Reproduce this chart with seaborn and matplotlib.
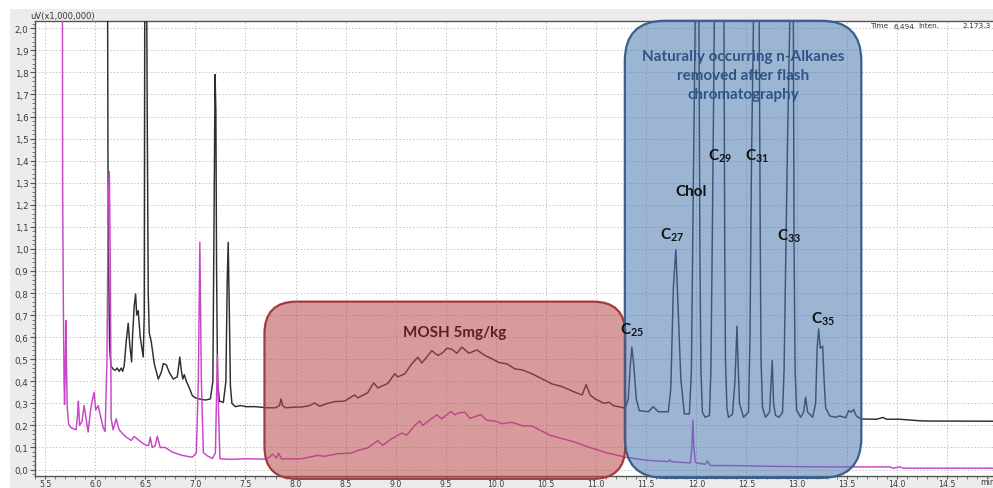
import numpy as np
import pandas as pd
import matplotlib
matplotlib.use("Agg")
import matplotlib.pyplot as plt
import seaborn as sns
from matplotlib.patches import FancyBboxPatch, Rectangle
from matplotlib.ticker import MultipleLocator, FuncFormatter, FixedLocator

# ---------------- data (retention time in min, signal in uV x 1,000,000) ----------------
sample_time = [
    6.105, 6.122, 6.128, 6.135, 6.145, 6.158, 6.18, 6.20, 6.22, 6.24, 6.26, 6.275, 6.29, 6.31,
    6.33, 6.345, 6.364, 6.375, 6.39, 6.404, 6.415, 6.43, 6.45, 6.48, 6.49, 6.497, 6.51, 6.52,
    6.53, 6.54, 6.56, 6.59, 6.63, 6.66, 6.68, 6.71, 6.74, 6.78, 6.82, 6.845, 6.86, 6.875, 6.89,
    6.91, 6.94, 6.97, 7.0, 7.04, 7.1, 7.15, 7.175, 7.188, 7.197, 7.205, 7.212, 7.222, 7.24,
    7.28, 7.305, 7.318, 7.328, 7.338, 7.35, 7.365, 7.40, 7.45, 7.51, 7.6, 7.71, 7.8, 7.84,
    7.855, 7.87, 7.9, 8.0, 8.06, 8.14, 8.19, 8.24, 8.32, 8.39, 8.49, 8.59, 8.62, 8.72, 8.78,
    8.82, 8.92, 8.99, 9.02, 9.09, 9.16, 9.22, 9.26, 9.31, 9.36, 9.42, 9.47, 9.51, 9.56, 9.61,
    9.66, 9.73, 9.81, 9.89, 9.96, 10.03, 10.11, 10.19, 10.26, 10.36, 10.46, 10.56, 10.66,
    10.79, 10.86, 10.90, 10.94, 10.99, 11.08, 11.13, 11.17, 11.24, 11.29, 11.32, 11.34,
    11.356, 11.376, 11.40, 11.43, 11.52, 11.57, 11.62, 11.72, 11.745, 11.77, 11.795, 11.81,
    11.83, 11.845, 11.88, 11.93, 11.95, 11.97, 11.99, 12.005, 12.025, 12.035, 12.045, 12.06,
    12.087, 12.13, 12.145, 12.16, 12.18, 12.21, 12.25, 12.275, 12.283, 12.29, 12.305, 12.32,
    12.36, 12.385, 12.405, 12.415, 12.43, 12.47, 12.52, 12.535, 12.55, 12.575, 12.6, 12.625,
    12.638, 12.645, 12.66, 12.69, 12.73, 12.757, 12.77, 12.79, 12.825, 12.86, 12.875, 12.89,
    12.91, 12.935, 12.955, 12.968, 12.975, 12.985, 13.0, 13.04, 13.07, 13.09, 13.11, 13.16,
    13.19, 13.205, 13.22, 13.236, 13.26, 13.275, 13.29, 13.33, 13.39, 13.43, 13.49, 13.52,
    13.545, 13.57, 13.595, 13.645, 13.80, 13.86, 13.9, 14.03, 14.2, 14.28, 14.96,
]
sample_signal = [
    2.6, 2.6, 1.43, 0.9, 0.55, 0.47, 0.455, 0.45, 0.46, 0.445, 0.46, 0.445, 0.47, 0.58,
    0.663, 0.57, 0.488, 0.62, 0.74, 0.796, 0.70, 0.72, 0.60, 0.51, 0.70, 2.6, 2.6, 1.6,
    0.8, 0.62, 0.58, 0.48, 0.41, 0.44, 0.48, 0.475, 0.44, 0.41, 0.42, 0.51, 0.45, 0.41, 0.43,
    0.40, 0.37, 0.335, 0.325, 0.32, 0.315, 0.32, 0.40, 1.25, 1.79, 1.62, 0.9, 0.40, 0.31,
    0.305, 0.40, 0.85, 1.03, 0.75, 0.38, 0.30, 0.285, 0.29, 0.285, 0.285, 0.28, 0.28, 0.29,
    0.32, 0.29, 0.28, 0.283, 0.283, 0.29, 0.302, 0.287, 0.30, 0.308, 0.31, 0.338, 0.325, 0.348, 0.393,
    0.37, 0.39, 0.434, 0.42, 0.434, 0.479, 0.509, 0.483, 0.51, 0.539, 0.517, 0.53, 0.55, 0.545, 0.527,
    0.555, 0.527, 0.542, 0.517, 0.502, 0.485, 0.479, 0.456, 0.452, 0.434, 0.411, 0.388, 0.376,
    0.35, 0.338, 0.385, 0.338, 0.32, 0.30, 0.305, 0.29, 0.283, 0.278, 0.32, 0.47,
    0.555, 0.47, 0.32, 0.267, 0.262, 0.285, 0.262, 0.262, 0.37, 0.82, 0.997, 0.82,
    0.577, 0.41, 0.252, 0.252, 0.44, 1.3, 2.1, 2.8, 2.1, 1.0, 0.45, 0.26,
    0.237, 0.245, 0.45, 1.1, 2.1, 3.0, 3.0, 2.1, 1.0, 0.5, 0.28, 0.237,
    0.25, 0.40, 0.65, 0.50, 0.30, 0.237, 0.26, 0.60, 1.4, 2.2, 2.8, 2.2,
    1.0, 0.5, 0.28, 0.237, 0.26, 0.494, 0.30, 0.245, 0.237, 0.26, 0.45, 0.9,
    1.5, 2.1, 2.6, 2.0, 1.0, 0.45, 0.27, 0.237, 0.26, 0.328, 0.26, 0.237,
    0.30, 0.55, 0.637, 0.55, 0.559, 0.40, 0.28, 0.243, 0.237, 0.243, 0.235, 0.267,
    0.26, 0.272, 0.243, 0.229, 0.228, 0.236, 0.228, 0.228, 0.222, 0.22, 0.219,
]

blank_time = [
    5.660, 5.672, 5.676, 5.682, 5.69, 5.695, 5.70, 5.709, 5.715, 5.722, 5.735, 5.76, 5.81,
    5.825, 5.833, 5.845, 5.87, 5.89, 5.93, 5.955, 5.97, 5.99, 6.005, 6.03, 6.06, 6.08, 6.10,
    6.118, 6.13, 6.142, 6.152, 6.16, 6.18, 6.21, 6.24, 6.27, 6.31, 6.36, 6.39, 6.43, 6.46,
    6.51, 6.535, 6.55, 6.57, 6.60, 6.62, 6.65, 6.70, 6.77, 6.87, 6.97, 7.01, 7.03, 7.045,
    7.06, 7.08, 7.12, 7.17, 7.2, 7.21, 7.22, 7.23, 7.245, 7.36, 7.5, 7.7, 7.74, 7.77, 7.81,
    7.83, 7.86, 8.06, 8.22, 8.29, 8.41, 8.56, 8.62, 8.72, 8.82, 8.87, 8.96, 9.06, 9.11, 9.19,
    9.24, 9.27, 9.34, 9.41, 9.46, 9.55, 9.59, 9.63, 9.69, 9.74, 9.85, 9.91, 9.99, 10.06,
    10.16, 10.26, 10.36, 10.46, 10.54, 10.66, 10.76, 10.93, 11.09, 11.29, 11.5, 11.72,
    11.735, 11.75, 11.94, 11.955, 11.965, 11.975, 11.99, 12.0, 12.09, 12.11, 12.14, 12.35,
    12.69, 13.03, 13.36, 13.93, 13.96, 14.03, 14.06, 14.97,
]
blank_signal = [
    2.6, 2.6, 1.26, 0.8, 0.40, 0.295, 0.40, 0.675, 0.45, 0.28, 0.207, 0.19, 0.18,
    0.25, 0.31, 0.20, 0.22, 0.29, 0.17, 0.27, 0.31, 0.35, 0.27, 0.29, 0.23, 0.19, 0.172,
    0.5, 1.2, 1.35, 0.9, 0.23, 0.18, 0.23, 0.18, 0.165, 0.147, 0.132, 0.15, 0.135, 0.124,
    0.109, 0.11, 0.147, 0.10, 0.109, 0.151, 0.10, 0.10, 0.079, 0.064, 0.056, 0.075, 0.40, 1.03,
    0.40, 0.077, 0.062, 0.05, 0.075, 0.30, 0.52, 0.30, 0.049, 0.046, 0.049, 0.047, 0.056, 0.07, 0.052,
    0.074, 0.048, 0.049, 0.064, 0.06, 0.071, 0.075, 0.087, 0.098, 0.131, 0.11, 0.14, 0.165, 0.156, 0.20,
    0.22, 0.20, 0.225, 0.248, 0.23, 0.263, 0.248, 0.257, 0.26, 0.232, 0.249, 0.223, 0.22, 0.208,
    0.214, 0.199, 0.197, 0.174, 0.155, 0.14, 0.128, 0.101, 0.078, 0.056, 0.042, 0.036,
    0.045, 0.036, 0.03, 0.10, 0.225, 0.10, 0.035, 0.03, 0.024, 0.039, 0.018, 0.018,
    0.015, 0.013, 0.012, 0.012, 0.006, 0.012, 0.006, 0.006,
]

x_tick_values = [5.5, 6.0, 6.5, 7.0, 7.5, 8.0, 8.5, 9.0, 9.5, 10.0, 10.5, 11.0, 11.5, 12.0,
                 12.5, 13.0, 13.5, 14.0, 14.5]
y_tick_values = [0.0, 0.1, 0.2, 0.3, 0.4, 0.5, 0.6, 0.7, 0.8, 0.9, 1.0, 1.1, 1.2, 1.3, 1.4,
                 1.5, 1.6, 1.7, 1.8, 1.9, 2.0]

peak_labels = ["C25", "C27", "Chol", "C29", "C31", "C33", "C35"]
region_mosh = [7.69, 11.29, -0.042, 0.761]        # x0, x1, y0, y1
region_alkanes = [11.286, 13.646, -0.038, 2.034]

# ---------------- style ----------------
sns.set_style("white")
plt.rcParams["font.family"] = ["DejaVu Sans"]
plt.rcParams["mathtext.fontset"] = "custom"
plt.rcParams["mathtext.rm"] = "Lato:bold"
plt.rcParams["mathtext.it"] = "Lato:bold"
plt.rcParams["mathtext.bf"] = "Lato:bold"

W, H = 993, 489
fig = plt.figure(figsize=(W / 100, H / 100), dpi=100, facecolor="white")
# grey window background
fig.patches.append(Rectangle((10 / W, 0), 1 - 10 / W, (H - 10) / H, transform=fig.transFigure,
                             facecolor="#ececec", edgecolor="none", zorder=-10))

ax_l, ax_r, ax_t, ax_b = 35, 993, 22, 476.5
ax = fig.add_axes([ax_l / W, (H - ax_b) / H, (ax_r - ax_l) / W, (ax_b - ax_t) / H])
ax.set_facecolor("white")

xlim = (5.40, 14.96)
ylim = (-0.027, 2.033)

df_s = pd.DataFrame({"t": sample_time, "v": sample_signal})
df_b = pd.DataFrame({"t": blank_time, "v": blank_signal})
sns.lineplot(data=df_s, x="t", y="v", ax=ax, color="#2e2e2e", lw=1.05, sort=False,
             estimator=None, zorder=3)
sns.lineplot(data=df_b, x="t", y="v", ax=ax, color="#c844c8", lw=1.05, sort=False,
             estimator=None, zorder=3)

ax.set_xlim(*xlim)
ax.set_ylim(*ylim)
ax.set_xlabel("")
ax.set_ylabel("")

ax.xaxis.set_major_locator(FixedLocator(x_tick_values))
ax.yaxis.set_major_locator(FixedLocator(y_tick_values))
ax.xaxis.set_minor_locator(MultipleLocator(0.1))
ax.yaxis.set_minor_locator(MultipleLocator(0.02))
ax.xaxis.set_major_formatter(FuncFormatter(lambda v, p: f"{v:.1f}"))
ax.yaxis.set_major_formatter(FuncFormatter(lambda v, p: f"{v:.1f}".replace(".", ",")))
ax.tick_params(axis="both", which="major", direction="out", length=3.5, width=0.8,
               color="#555555", labelsize=6.3, labelcolor="#3a3a3a", pad=1.2)
ax.tick_params(axis="x", which="major", labelsize=5.6, pad=0.2, length=2.5)
ax.tick_params(axis="both", which="minor", direction="out", length=2, width=0.6, color="#666666")
ax.tick_params(axis="x", bottom=True, which="both")
ax.tick_params(axis="y", left=True, which="both")
ax.grid(True, which="major", color="#c4c4c4", lw=0.7, ls=(0, (1.5, 2)), zorder=0)
for s in ["left", "bottom", "top"]:
    ax.spines[s].set_color("#555555")
    ax.spines[s].set_linewidth(1.0)
ax.spines["right"].set_visible(False)

# ---------------- highlight boxes ----------------
fig.canvas.draw()
bb = ax.get_window_extent()
px_x = bb.width / (xlim[1] - xlim[0])
px_y = bb.height / (ylim[1] - ylim[0])
aspect = px_x / px_y


def rbox(reg, radius_px, fc, ec, alpha):
    x0, x1, y0, y1 = reg
    p = FancyBboxPatch((x0, y0), x1 - x0, y1 - y0,
                       boxstyle=f"round,pad=0,rounding_size={radius_px / px_x}",
                       mutation_aspect=aspect, transform=ax.transData,
                       facecolor=fc, edgecolor="none", alpha=alpha, clip_on=False, zorder=5)
    ax.add_patch(p)
    e = FancyBboxPatch((x0, y0), x1 - x0, y1 - y0,
                       boxstyle=f"round,pad=0,rounding_size={radius_px / px_x}",
                       mutation_aspect=aspect, transform=ax.transData,
                       facecolor="none", edgecolor=ec, lw=1.6, clip_on=False, zorder=6)
    ax.add_patch(e)


rbox(region_mosh, 32, "#b8494a", "#a23b3b", 0.55)
rbox(region_alkanes, 40, "#4a78b0", "#3b5f8c", 0.55)

# ---------------- texts ----------------
ax.text(12.47, 1.788, "Naturally occurring n-Alkanes\nremoved after flash\nchromatography",
        ha="center", va="center", fontsize=11, fontweight="bold", family="Lato",
        color="#2f5486", linespacing=1.45, zorder=7)
ax.text(9.585, 0.625, "MOSH 5mg/kg", ha="center", va="center", fontsize=11,
        fontweight="bold", family="Lato", color="#5a2020", zorder=7)

label_pos = {
    "C25": (11.356, 0.637), "C27": (11.758, 1.067), "Chol": (11.945, 1.263),
    "C29": (12.24, 1.426), "C31": (12.608, 1.426), "C33": (12.925, 1.063), "C35": (13.262, 0.687),
}
for lab in peak_labels:
    x, y = label_pos[lab]
    if lab.startswith("C") and lab[1:].isdigit():
        s = r"C$_{\mathrm{" + lab[1:] + r"}}$"
    else:
        s = lab
    ax.text(x, y, s, ha="center", va="center", fontsize=11, fontweight="bold",
            family="Lato", color="#111111", zorder=7)

fig.text(30 / W, 1 - 17 / H, "uV(x1,000,000)", ha="left", va="center", fontsize=6,
         color="#333333")
hdr_y = 1 - 26.5 / H
for xp, s in [(870, "Time"), (893, "6,494"), (918, "Inten."), (962, "2.173.3")]:
    fig.text(xp / W, hdr_y, s, ha="left", va="center", fontsize=5.3, color="#333333", zorder=8)
fig.text(980 / W, 1 - 483 / H, "min", ha="left", va="center", fontsize=5.6, color="#3a3a3a")

fig.savefig("out.png", dpi=100, facecolor=fig.get_facecolor())
